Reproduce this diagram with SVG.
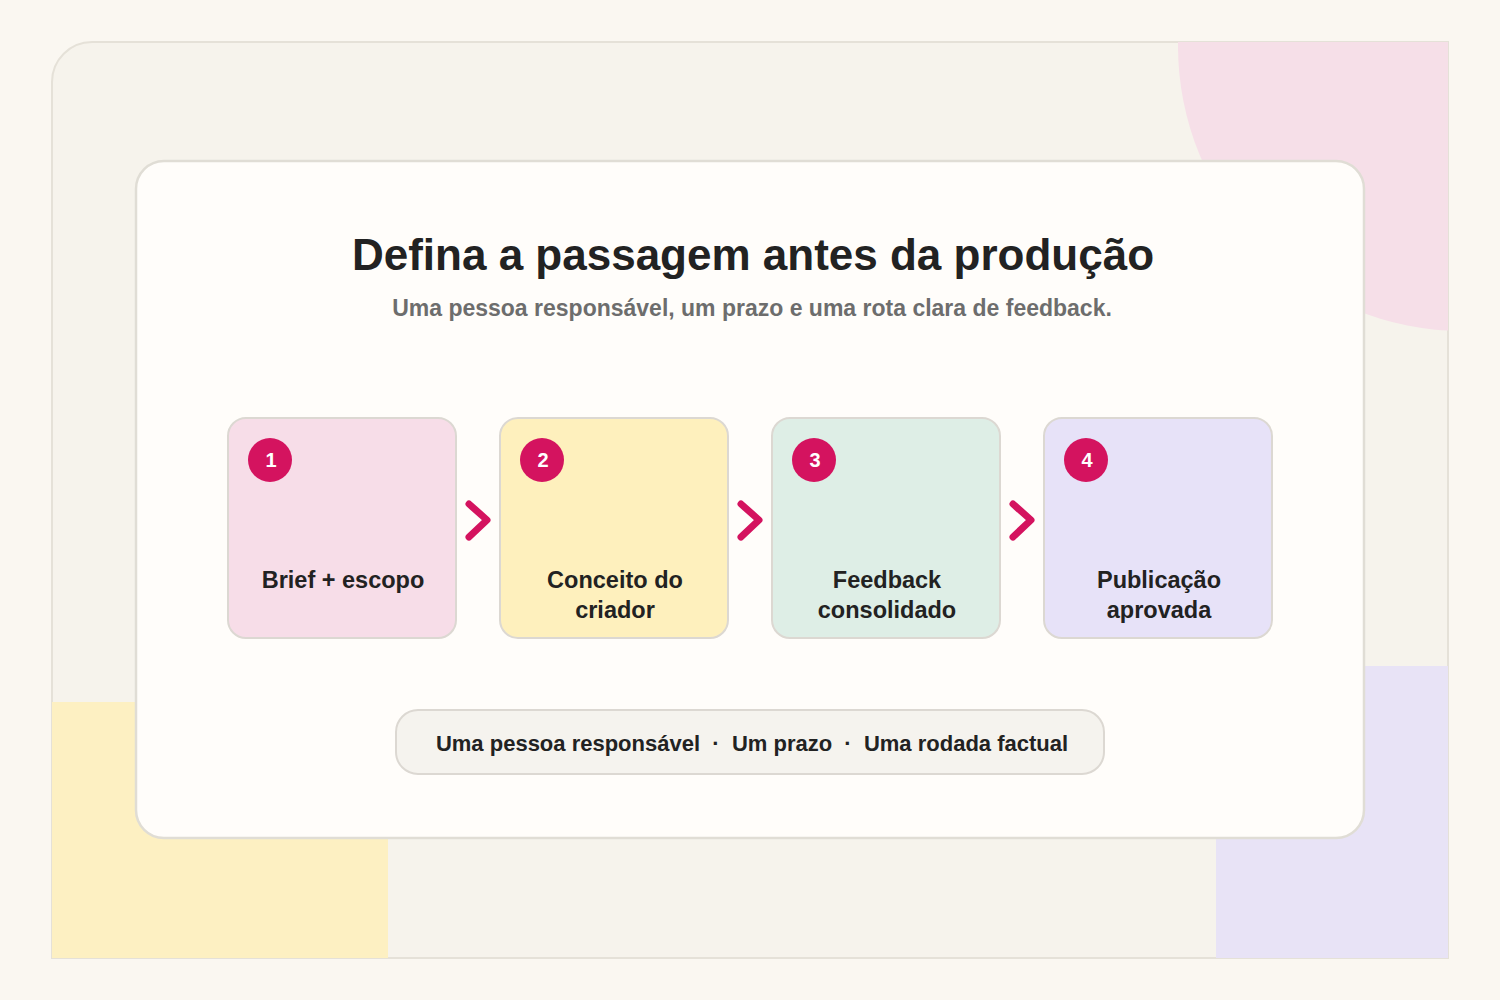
<svg xmlns="http://www.w3.org/2000/svg" width="1500" height="1000" viewBox="0 0 1500 1000">
<defs>
<style>
.t{font-family:"Liberation Sans",Arial,sans-serif;font-weight:bold;text-anchor:middle}
.f{font-family:"Liberation Sans",Arial,sans-serif;font-weight:bold;font-size:22px;fill:#222222}
.lbl{font-size:23.5px;fill:#222222}
.card{stroke:#dcd8d2;stroke-width:2}
.badge{fill:#d4135f}
.num{font-size:20px;fill:#ffffff}
.arr{fill:none;stroke:#d4135f;stroke-width:7;stroke-linecap:round;stroke-linejoin:round}
</style>
<clipPath id="oc"><path d="M52 82 A40 40 0 0 1 92 42 L1448 42 L1448 958 L52 958 Z"/></clipPath>
</defs>
<rect width="1500" height="1000" fill="#faf7f1"/>
<g id="backdrop">
<path d="M52 82 A40 40 0 0 1 92 42 L1448 42 L1448 958 L52 958 Z" fill="#f6f3ec" stroke="#e5e1d8" stroke-width="2"/>
<g clip-path="url(#oc)">
<circle cx="1463" cy="46" r="285" fill="#f6dfe8"/>
<rect x="1178" y="41" width="270" height="10" fill="#f6dfe8"/>
<rect x="52" y="702" width="336" height="256" fill="#fdf0c2"/>
<rect x="1216" y="666" width="232" height="292" fill="#e8e3f6"/>
</g>
</g>
<g id="panel">
<rect x="136" y="161" width="1228" height="677" rx="28" fill="#fffdfa" stroke="#e0ddd5" stroke-width="2.5"/>
<text class="t" x="753" y="270" font-size="44" fill="#222222">Defina a passagem antes da produção</text>
<text class="t" x="752" y="316" font-size="23" fill="#6d6d6d">Uma pessoa responsável, um prazo e uma rota clara de feedback.</text>
</g>
<g id="step1">
<rect class="card" x="228" y="418" width="228" height="220" rx="18" fill="#f7dde8"/>
<circle class="badge" cx="270" cy="460" r="22"/>
<text class="t num" x="271" y="467">1</text>
<text class="t lbl" x="343" y="588">Brief + escopo</text>
</g>
<g id="step2">
<rect class="card" x="500" y="418" width="228" height="220" rx="18" fill="#fef0bd"/>
<circle class="badge" cx="542" cy="460" r="22"/>
<text class="t num" x="543" y="467">2</text>
<text class="t lbl" x="615" y="588">Conceito do</text>
<text class="t lbl" x="615" y="618">criador</text>
</g>
<g id="step3">
<rect class="card" x="772" y="418" width="228" height="220" rx="18" fill="#deeee6"/>
<circle class="badge" cx="814" cy="460" r="22"/>
<text class="t num" x="815" y="467">3</text>
<text class="t lbl" x="887" y="588">Feedback</text>
<text class="t lbl" x="887" y="618">consolidado</text>
</g>
<g id="step4">
<rect class="card" x="1044" y="418" width="228" height="220" rx="18" fill="#e7e2f8"/>
<circle class="badge" cx="1086" cy="460" r="22"/>
<text class="t num" x="1087" y="467">4</text>
<text class="t lbl" x="1159" y="588">Publicação</text>
<text class="t lbl" x="1159" y="618">aprovada</text>
</g>
<g id="connectors">
<path class="arr" d="M469 504 L487 520 L469 537"/>
<path class="arr" d="M741 504 L759 520 L741 537"/>
<path class="arr" d="M1013 504 L1031 520 L1013 537"/>
</g>
<g id="footer">
<rect x="396" y="710" width="708" height="64" rx="22" fill="#f5f3ee" stroke="#dcd8d2" stroke-width="2"/>
<text class="f" x="568" y="751" text-anchor="middle">Uma pessoa responsável</text>
<text class="f" x="716" y="751" text-anchor="middle">·</text>
<text class="f" x="782" y="751" text-anchor="middle">Um prazo</text>
<text class="f" x="848" y="751" text-anchor="middle">·</text>
<text class="f" x="966" y="751" text-anchor="middle">Uma rodada factual</text>
</g>
</svg>
